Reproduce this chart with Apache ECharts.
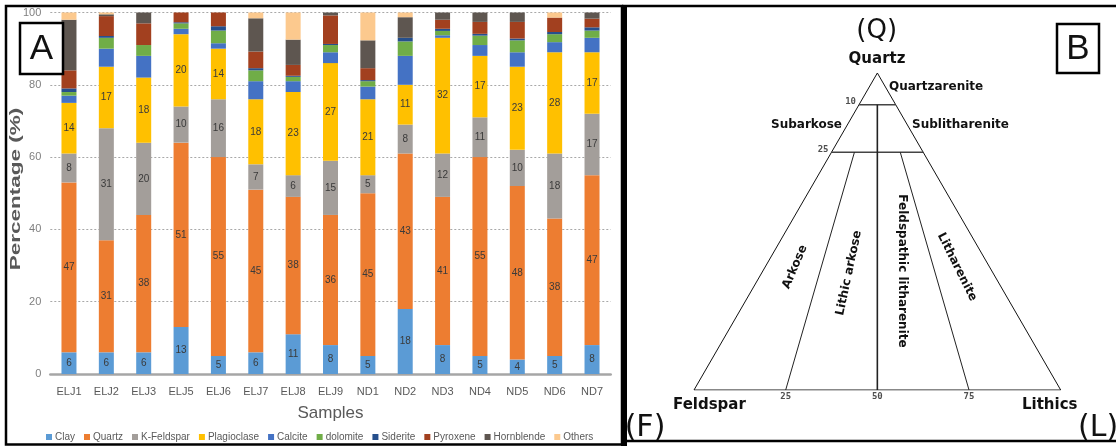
<!DOCTYPE html>
<html>
<head>
<meta charset="utf-8">
<script src="https://cdn.jsdelivr.net/npm/echarts@6/dist/echarts.min.js"></script>
<style>
html,body{margin:0;padding:0;background:#fff;}
#chart{width:1116px;height:446px;}
</style>
</head>
<body>
<div id="chart"></div>
<script>
// ---------- Panel A data ----------
const categories = ['ELJ1','ELJ2','ELJ3','ELJ5','ELJ6','ELJ7','ELJ8','ELJ9','ND1','ND2','ND3','ND4','ND5','ND6','ND7'];
const mineralNames = ['Clay','Quartz','K-Feldspar','Plagioclase','Calcite','dolomite','Siderite','Pyroxene','Hornblende','Others'];
const clay        = [6, 6, 6, 13, 5, 6, 11, 8, 5, 18, 8, 5, 4, 5, 8];
const quartz      = [47, 31, 38, 51, 55, 45, 38, 36, 45, 43, 41, 55, 48, 38, 47];
const kFeldspar   = [8, 31, 20, 10, 16, 7, 6, 15, 5, 8, 12, 11, 10, 18, 17];
const plagioclase = [14, 17, 18, 20, 14, 18, 23, 27, 21, 11, 32, 17, 23, 28, 17];
const calcite     = [2, 5, 6, 1.5, 1.5, 5, 3, 3, 3.5, 8, 0.7, 3, 4, 2.8, 4];
const dolomite    = [1, 3, 3, 1.5, 3.5, 3, 1.2, 2, 1.5, 4, 1.2, 2.6, 3.3, 2.2, 2];
const siderite    = [1, 0.5, 0, 0.3, 1.2, 0.6, 0.3, 0.3, 0.3, 1, 0.6, 0.5, 0.5, 0.6, 0.9];
const pyroxene    = [5, 5.5, 6, 2.7, 3.8, 4.6, 3, 7.9, 3.3, 0, 2.5, 3.3, 4.6, 4, 2.4];
const hornblende  = [14, 0.5, 3, 0, 0, 9.2, 7, 0.8, 7.7, 5.7, 2, 2.6, 2.6, 0, 1.7];
const others      = [2, 0.5, 0, 0, 0, 1.6, 7.5, 0, 7.7, 1.3, 0, 0, 0, 1.4, 0];
const yTicks = [0, 20, 40, 60, 80, 100];

// ---------- Panel B data (Q, F, L percentages) ----------
const triangleOutline = [[100,0,0],[0,100,0],[0,0,100],[100,0,0]];
const boundaryQ90 = [[90,10,0],[90,0,10]];
const boundaryQ75 = [[75,25,0],[75,0,25]];
const boundaryFL50 = [[90,5,5],[0,50,50]];
const boundaryFL25 = [[75,18.75,6.25],[0,75,25]];
const boundaryFL75 = [[75,6.25,18.75],[0,25,75]];
const qTickValues = [90, 75];
const qTickLabels = ['10', '25'];
const baseTickValues = [25, 50, 75];
const baseTickLabels = ['25', '50', '75'];

const colors = ['#5B9BD5','#ED7D31','#A39E9A','#FFC000','#4472C4','#70AD47','#264F8C','#A2401F','#5E5650','#FCC98E'];
const seriesValues = [clay, quartz, kFeldspar, plagioclase, calcite, dolomite, siderite, pyroxene, hornblende, others];

const sans = '"Liberation Sans", Arial, sans-serif';
const dejavu = '"DejaVu Sans", Verdana, sans-serif';

function toXY(p) { // p = [Q, F, L]
  return [p[2] + p[0] / 2, p[0] * Math.sqrt(3) / 2];
}

const barSeries = seriesValues.map((vals, i) => ({
  name: mineralNames[i],
  type: 'bar',
  stack: 'total',
  xAxisIndex: 0,
  yAxisIndex: 0,
  barWidth: 15,
  itemStyle: { color: colors[i] },
  label: i < 4 ? {
    show: true, position: 'inside', color: '#3a3a3a',
    fontFamily: sans, fontSize: 10
  } : { show: false },
  emphasis: { disabled: true },
  data: vals
}));

function lineSeries(pts, width, color) {
  return {
    type: 'line', xAxisIndex: 1, yAxisIndex: 1, silent: true,
    symbol: 'none', animation: false,
    lineStyle: { width: width, color: color },
    data: pts.map(toXY)
  };
}

const ternarySeries = [
  lineSeries(triangleOutline, 1, '#111'),
  lineSeries(boundaryQ90, 1.5, '#444'),
  lineSeries(boundaryQ75, 1.5, '#444'),
  lineSeries(boundaryFL50, 1.6, '#222'),
  lineSeries(boundaryFL25, 1, '#222'),
  lineSeries(boundaryFL75, 1, '#222'),
  {
    type: 'scatter', xAxisIndex: 1, yAxisIndex: 1, silent: true, symbolSize: 0,
    label: { show: true, position: 'left', distance: 3, offset: [0, -3],
      formatter: p => p.data.txt, fontFamily: '"DejaVu Sans Mono", monospace', fontWeight: 'bold', fontSize: 9, color: '#222' },
    data: qTickValues.map((q, i) => ({ value: toXY([q, 100 - q, 0]), txt: qTickLabels[i] }))
  },
  {
    type: 'scatter', xAxisIndex: 1, yAxisIndex: 1, silent: true, symbolSize: 0,
    label: { show: true, position: 'bottom', distance: 2,
      formatter: p => p.data.txt, fontFamily: '"DejaVu Sans Mono", monospace', fontWeight: 'bold', fontSize: 9, color: '#222' },
    data: baseTickValues.map((l, i) => ({ value: toXY([0, 100 - l, l]), txt: baseTickLabels[i] }))
  }
];

function txt(text, x, y, font, align, rot, extra) {
  return Object.assign({
    type: 'text', x: x, y: y, rotation: (rot || 0) * Math.PI / 180, z: 100,
    style: { text: text, font: font, fill: '#111', align: align || 'center', verticalAlign: 'middle' }
  }, extra || {});
}

const chart = echarts.init(document.getElementById('chart'), null, { renderer: 'canvas' });
chart.setOption({
  backgroundColor: '#fff',
  animation: false,
  legend: {
    data: mineralNames,
    left: 46, top: 432, padding: 0,
    icon: 'rect', itemWidth: 6, itemHeight: 6, itemGap: 9,
    textStyle: { fontFamily: sans, fontSize: 10, color: '#595959', padding: [0, 0, 0, -2] },
    selectedMode: false
  },
  grid: [
    { left: 50.3, top: 12.5, width: 560.4, height: 361.5, containLabel: false, outerBoundsMode: 'none' },
    { left: 694, top: 73, width: 366.7, height: 317, containLabel: false, outerBoundsMode: 'none' }
  ],
  xAxis: [
    {
      type: 'category', gridIndex: 0, data: categories,
      axisTick: { show: false },
      axisLine: { lineStyle: { color: '#a6a6a6', width: 2.5 } },
      axisLabel: { color: '#595959', fontFamily: sans, fontSize: 11, margin: 12, interval: 0 },
      name: 'Samples', nameLocation: 'middle', nameGap: 31,
      nameTextStyle: { color: '#595959', fontFamily: sans, fontSize: 17 }
    },
    { type: 'value', gridIndex: 1, min: 0, max: 100, show: false }
  ],
  yAxis: [
    {
      type: 'value', gridIndex: 0, min: 0, max: 100, interval: 20,
      axisLine: { show: false }, axisTick: { show: false },
      axisLabel: { color: '#7f7f7f', fontFamily: sans, fontSize: 11, margin: 9,
        formatter: v => yTicks.indexOf(v) >= 0 ? String(v) : '' },
      splitLine: { show: true, lineStyle: { color: '#a8a8a8', type: [2, 2], width: 1 } }
    },
    { type: 'value', gridIndex: 1, min: 0, max: 86.6025, show: false }
  ],
  series: barSeries.concat(ternarySeries),
  graphic: [
    // frames
    { type: 'rect', shape: { x: 6, y: 6, width: 616, height: 438.5 }, style: { fill: 'none', stroke: '#000', lineWidth: 2.5 }, z: 90 },
    { type: 'rect', shape: { x: 621, y: 5, width: 6, height: 441 }, style: { fill: '#000' }, z: 90 },
    { type: 'line', shape: { x1: 622, y1: 6, x2: 1116, y2: 6 }, style: { stroke: '#000', lineWidth: 2.5 }, z: 90 },
    { type: 'line', shape: { x1: 622, y1: 441, x2: 1116, y2: 441 }, style: { stroke: '#000', lineWidth: 2.5 }, z: 90 },
    // panel letters
    { type: 'rect', shape: { x: 20, y: 23, width: 43, height: 51 }, style: { fill: '#fff', stroke: '#000', lineWidth: 2.5 }, z: 95 },
    txt('A', 41.5, 49, '35px ' + sans, 'center', 0, { z: 96 }),
    { type: 'rect', shape: { x: 1057, y: 24, width: 42, height: 49 }, style: { fill: '#fff', stroke: '#000', lineWidth: 2.5 }, z: 95 },
    txt('B', 1078, 49.5, '35px ' + sans, 'center', 0, { z: 96 }),
    // y-axis title (stretched like the source)
    {
      type: 'text', x: 16, y: 189, rotation: Math.PI / 2, scaleX: 1.5, z: 100,
      style: { text: 'Percentage (%)', font: 'bold 15px ' + sans, fill: '#595959', align: 'center', verticalAlign: 'middle' }
    },
    // ternary annotations
    txt('(Q)', 876.7, 31, '26px ' + dejavu),
    txt('Quartz', 877, 59, 'bold 15px ' + dejavu),
    txt('Quartzarenite', 889, 87, 'bold 12px ' + dejavu, 'left'),
    txt('Subarkose', 842, 125, 'bold 12px ' + dejavu, 'right'),
    txt('Sublitharenite', 912, 125, 'bold 12px ' + dejavu, 'left'),
    txt('Feldspar', 673, 405, 'bold 15px ' + dejavu, 'left'),
    txt('Lithics', 1022, 405, 'bold 15px ' + dejavu, 'left'),
    txt('(F)', 645, 428, '30px ' + dejavu),
    txt('(L)', 1078, 428, '30px ' + dejavu, 'left'),
    txt('Arkose', 795, 267, 'bold 12px ' + dejavu, 'center', 67),
    txt('Lithic arkose', 849, 273, 'bold 12px ' + dejavu, 'center', 78),
    txt('Feldspathic litharenite', 902, 271, 'bold 12px ' + dejavu, 'center', -90),
    txt('Litharenite', 957, 267, 'bold 12px ' + dejavu, 'center', -63.4)
  ]
});
</script>
</body>
</html>
